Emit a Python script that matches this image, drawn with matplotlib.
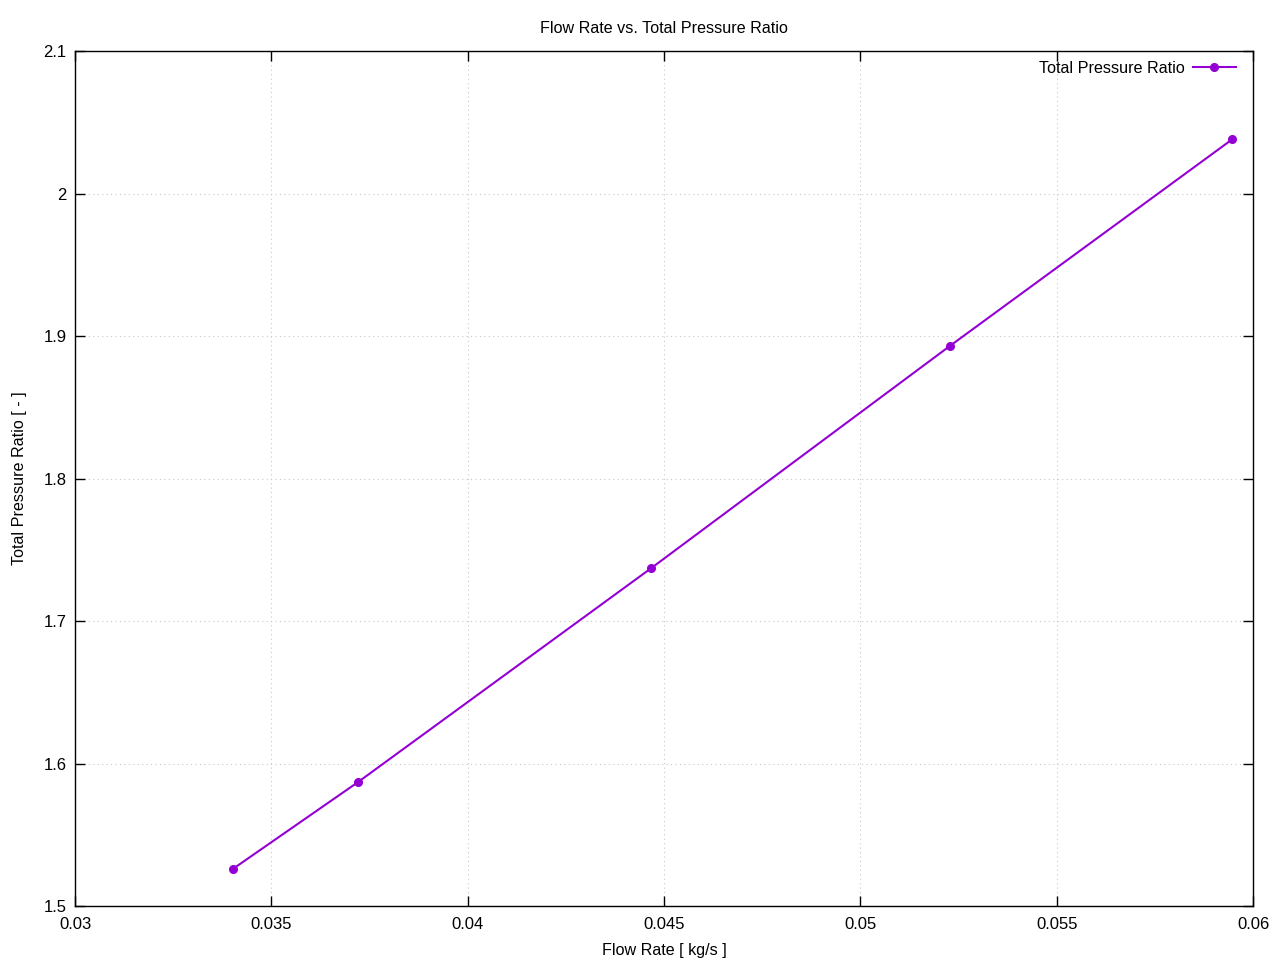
import matplotlib
matplotlib.use("Agg")
import matplotlib.pyplot as plt

plt.rcParams['font.family'] = ['Liberation Sans', 'DejaVu Sans']

flow_rate = [0.03402, 0.03721, 0.04467, 0.05228, 0.05947]
pressure_ratio = [1.526, 1.587, 1.737, 1.893, 2.038]
x_ticks = [0.03, 0.035, 0.04, 0.045, 0.05, 0.055, 0.06]
x_tick_labels = ["0.03", "0.035", "0.04", "0.045", "0.05", "0.055", "0.06"]
y_ticks = [1.5, 1.6, 1.7, 1.8, 1.9, 2.0, 2.1]
y_tick_labels = ["1.5", "1.6", "1.7", "1.8", "1.9", "2", "2.1"]

fig = plt.figure(figsize=(12.8, 9.6), dpi=100)
ax = fig.add_axes([75/1280, 54/960, (1253-75)/1280, (906-51)/960])

ax.plot(flow_rate, pressure_ratio, color='#9400d3', lw=1.5, marker='o', ms=5.5,
        label='Total Pressure Ratio')

ax.set_xlim(0.03, 0.06)
ax.set_ylim(1.5, 2.1)
ax.set_xticks(x_ticks)
ax.set_xticklabels(x_tick_labels)
ax.set_yticks(y_ticks)
ax.set_yticklabels(y_tick_labels)
ax.tick_params(direction='in', top=True, right=True, length=7, width=1, labelsize=12)
ax.tick_params(axis='x', pad=8)
ax.tick_params(axis='y', pad=6)
ax.grid(True, linestyle=(0, (1, 3)), color='#c8c8c8', lw=0.8)
for s in ax.spines.values():
    s.set_linewidth(1)

ax.set_title('Flow Rate vs. Total Pressure Ratio', fontsize=11.6, pad=13)
ax.set_xlabel('Flow Rate [ kg/s ]', fontsize=11.6, labelpad=8)
ax.set_ylabel('Total Pressure Ratio [ - ]', fontsize=11.6, labelpad=12)

ax.legend(loc='upper right', frameon=False, markerfirst=False, fontsize=11.6,
          handlelength=2.7, handletextpad=0.5, borderpad=0, borderaxespad=0,
          bbox_to_anchor=(0.9856, 0.9883))

fig.savefig('out.png', dpi=100)
